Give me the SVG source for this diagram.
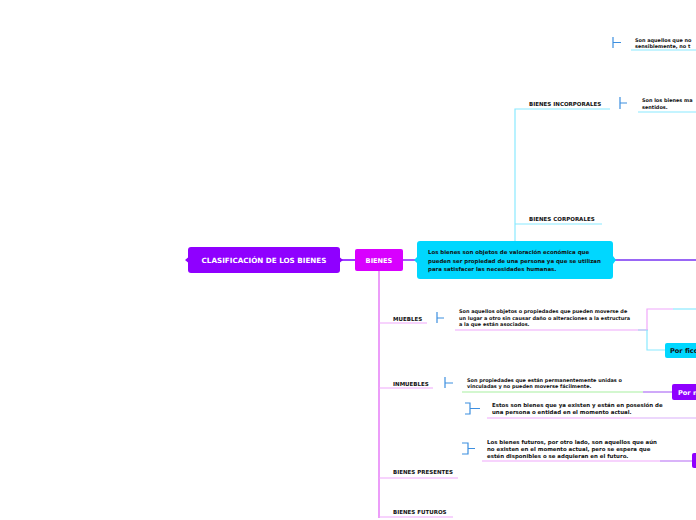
<svg xmlns="http://www.w3.org/2000/svg" width="696" height="520" viewBox="0 0 696 520">
<style>
text{font-family:"DejaVu Sans",Verdana,sans-serif;font-weight:bold;}
.lbl{font-size:5.5px;fill:#111;}
.body{font-size:4.95px;fill:#111;}
.big{font-size:5.45px;}
.wt{fill:#fff;font-size:6.6px;}
.br{fill:none;stroke:#3d8fe0;stroke-width:1.2;}
.mag{stroke:#e05cf5;stroke-width:1.2;fill:none;}
.pink{stroke:#f0a8fb;stroke-width:1.2;fill:none;}
.cy{stroke:#8ae9ff;stroke-width:1.2;fill:none;}
</style>
<rect width="696" height="520" fill="#fff"/>
<g id="connectors">
<line x1="340" y1="260" x2="355" y2="260" stroke="#9a3dff" stroke-width="2"/>
<line x1="403" y1="260" x2="417" y2="260" stroke="#a35cf7" stroke-width="2"/>
<line x1="614" y1="260" x2="696" y2="260" stroke="#9966f5" stroke-width="2"/>
<path class="cy" d="M515 241 V109 H610 M515 224 H602"/>
<line class="cy" x1="631" y1="50" x2="696" y2="50" stroke="#b5f1ff"/>
<line class="cy" x1="638" y1="112" x2="696" y2="112"/>
<line class="mag" x1="379" y1="271" x2="379" y2="518"/>
<path class="pink" d="M379 323 H427 M379 388 H433 M379 478 H458 M379 517 H453"/>
<line class="pink" x1="455" y1="330" x2="638" y2="330"/>
<line x1="638" y1="330" x2="648" y2="330" stroke="#a8b8f0" stroke-width="1.2"/>
<path class="pink" d="M647 330 V309 H673"/>
<line class="cy" x1="673" y1="309" x2="696" y2="309"/>
<path class="cy" d="M647 330 V350 H665"/>
<line x1="462" y1="392" x2="643" y2="392" stroke="#a8f0a0" stroke-width="1.2"/>
<line x1="643" y1="392" x2="672" y2="392" stroke="#b070f5" stroke-width="1.2"/>
<line class="pink" x1="487" y1="418" x2="640" y2="418"/>
<line x1="640" y1="418" x2="696" y2="418" stroke="#d9b0fa" stroke-width="1.2"/>
<line class="pink" x1="482" y1="461" x2="660" y2="461"/>
<line x1="660" y1="461" x2="692" y2="461" stroke="#c080f5" stroke-width="1.2"/>
<path class="br" d="M613 37 V48 M613 42.5 H621"/>
<path class="br" d="M620 97 V109 M620 103 H627"/>
<path class="br" d="M437 312 V323 M437 318 H444"/>
<path class="br" d="M445 377 V388 M445 383 H453"/>
<path class="br" d="M465 403 H470 V414 H465 M470 408.5 H480"/>
<path class="br" d="M462 443 H468 V454 H462 M468 448.5 H475"/>
</g>
<g id="n-title">
<rect x="188" y="247" width="152" height="26" rx="3" fill="#8f00ff"/>
<path d="M188 257.5 L185 260 L188 262.5 Z M340 257.5 L343 260 L340 262.5 Z" fill="#8f00ff"/>
<text class="wt" x="264" y="262.5" text-anchor="middle" style="font-size:7.2px">CLASIFICACIÓN DE LOS BIENES</text>
</g>
<g id="n-bienes">
<rect x="355" y="249" width="48" height="22" rx="2" fill="#d800ff"/>
<text class="wt" x="379" y="262.5" text-anchor="middle">BIENES</text>
</g>
<g id="n-def">
<rect x="417" y="241" width="196" height="38" rx="3" fill="#00d7ff"/>
<path d="M417 257 L414 260 L417 263 Z M613 256 L616 260 L613 264 Z" fill="#00d7ff"/>
<text class="body big" x="428" y="254">Los bienes son objetos de valoración económica que</text>
<text class="body big" x="428" y="263">pueden ser propiedad de una persona ya que se utilizan</text>
<text class="body big" x="428" y="271">para satisfacer las necesidades humanas.</text>
</g>
<g id="n-incorp">
<text class="lbl" x="529" y="105.5">BIENES INCORPORALES</text>
</g>
<g id="n-corp">
<text class="lbl" x="529" y="221">BIENES CORPORALES</text>
</g>
<g id="n-incorp-desc">
<text class="body" x="642" y="102">Son los bienes ma</text>
<text class="body" x="642" y="108.5">sentidos.</text>
</g>
<g id="n-top-desc">
<text class="body" x="635" y="41.5">Son aquellos que no</text>
<text class="body" x="635" y="48">sensiblemente, no t</text>
</g>
<g id="n-muebles">
<text class="lbl" x="393" y="320.5">MUEBLES</text>
</g>
<g id="n-muebles-desc">
<text class="body" x="459" y="312.5">Son aquellos objetos o propiedades que pueden moverse de</text>
<text class="body" x="459" y="319.5">un lugar a otro sin causar daño o alteraciones a la estructura</text>
<text class="body" x="459" y="326">a la que están asociados.</text>
</g>
<g id="n-ficc">
<rect x="665" y="343" width="35" height="15" rx="2" fill="#00d7ff"/>
<text class="lbl" x="670" y="353" style="font-size:6.6px">Por ficc</text>
</g>
<g id="n-inmuebles">
<text class="lbl" x="393" y="385.5">INMUEBLES</text>
</g>
<g id="n-inmuebles-desc">
<text class="body" x="467" y="381.5">Son propiedades que están permanentemente unidas o</text>
<text class="body" x="467" y="388">vinculadas y no pueden moverse fácilmente.</text>
</g>
<g id="n-porm">
<rect x="672" y="384" width="30" height="16" rx="2" fill="#8f00ff"/>
<text class="wt" x="678" y="394.5">Por m</text>
</g>
<g id="n-presentes-desc">
<text class="body big" x="492" y="407">Estos son bienes que ya existen y están en posesión de</text>
<text class="body big" x="492" y="413.5">una persona o entidad en el momento actual.</text>
</g>
<g id="n-futuros-desc">
<text class="body big" x="487" y="443.5">Los bienes futuros, por otro lado, son aquellos que aún</text>
<text class="body big" x="487" y="450.5">no existen en el momento actual, pero se espera que</text>
<text class="body big" x="487" y="457.5">estén disponibles o se adquieran en el futuro.</text>
</g>
<g id="n-futuros-node">
<rect x="692" y="453" width="8" height="15" rx="2" fill="#8f00ff"/>
</g>
<g id="n-presentes">
<text class="lbl" x="393" y="474">BIENES PRESENTES</text>
</g>
<g id="n-futuros">
<text class="lbl" x="393" y="514">BIENES FUTUROS</text>
</g>
</svg>
